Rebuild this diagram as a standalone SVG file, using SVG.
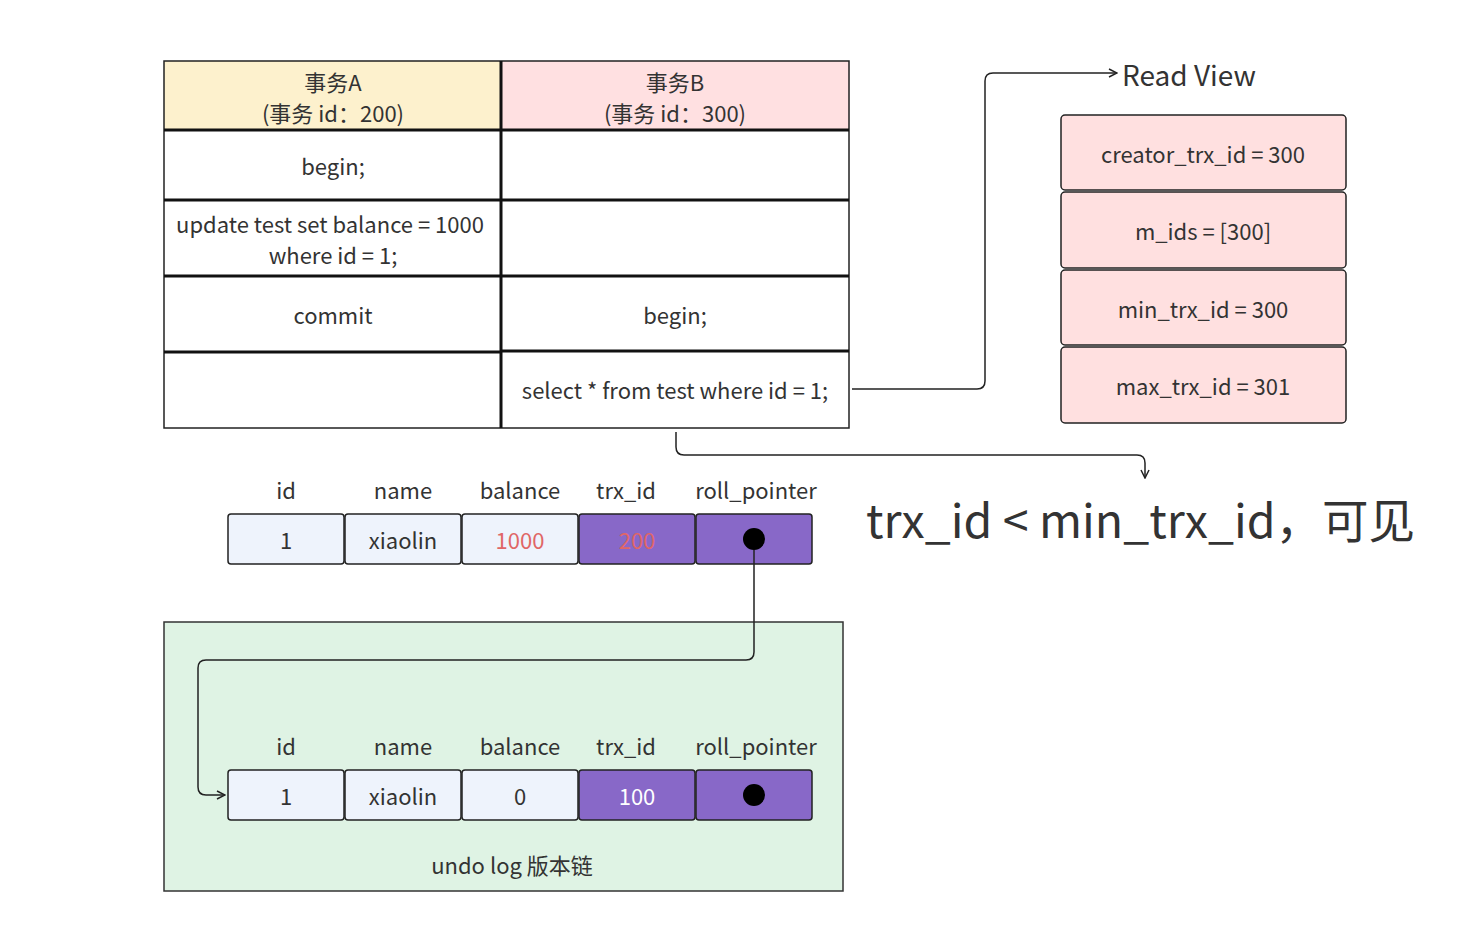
<svg xmlns="http://www.w3.org/2000/svg" width="1460" height="932" viewBox="0 0 1460 932">
<defs>
<style>
text{font-family:"Noto Sans CJK SC","Noto Sans",sans-serif;fill:#333;text-anchor:middle;dominant-baseline:central}
.t{font-size:22px}
.cellL{fill:#eef3fc;stroke:#222;stroke-width:1.5}
.cellP{fill:#8868c8;stroke:#222;stroke-width:1.5}
.rv{fill:#ffe0e0;stroke:#222;stroke-width:1.5}
.conn{fill:none;stroke:#222;stroke-width:1.5}
.grid{stroke:#111;stroke-width:3}
</style>
<marker id="arr" viewBox="0 0 10 10" refX="9" refY="5" markerWidth="10" markerHeight="10" markerUnits="userSpaceOnUse" orient="auto">
<path d="M1,1 L9,5 L1,9" fill="none" stroke="#222" stroke-width="1.5"/>
</marker>
</defs>
<rect width="1460" height="932" fill="#fff"/>

<g id="undo-box">
<rect x="164" y="622" width="679" height="269" fill="#dff3e4" stroke="#333" stroke-width="1.5"/>
<text x="512" y="864" class="t">undo log 版本链</text>
</g>

<g id="table">
<rect x="164" y="61" width="337" height="69" fill="#fdf1cd"/>
<rect x="501" y="61" width="348" height="69" fill="#ffe0e1"/>
<rect x="164" y="61" width="685" height="367" fill="none" stroke="#222" stroke-width="1.5"/>
<line class="grid" x1="501" y1="61" x2="501" y2="428"/>
<line class="grid" x1="164" y1="130" x2="849" y2="130"/>
<line class="grid" x1="164" y1="200" x2="849" y2="200"/>
<line class="grid" x1="164" y1="276" x2="849" y2="276"/>
<line class="grid" x1="501" y1="351" x2="849" y2="351"/>
<line class="grid" x1="164" y1="352" x2="501" y2="352"/>
<text x="333" y="81" class="t">事务A</text>
<text x="333" y="112" class="t">(事务 id：200)</text>
<text x="675" y="81" class="t">事务B</text>
<text x="675" y="112" class="t">(事务 id：300)</text>
<text x="333" y="165" class="t">begin;</text>
<text x="330" y="223" class="t">update test set balance = 1000</text>
<text x="333" y="254" class="t">where id = 1;</text>
<text x="333" y="314" class="t">commit</text>
<text x="675" y="314" class="t">begin;</text>
<text x="675" y="389" class="t">select * from test where id = 1;</text>
</g>

<g id="read-view">
<text x="1122" y="74" style="font-size:28px;text-anchor:start">Read View</text>
<rect class="rv" x="1061" y="115" width="285" height="75" rx="4"/>
<text x="1203" y="153" class="t">creator_trx_id = 300</text>
<rect class="rv" x="1061" y="192" width="285" height="76" rx="4"/>
<text x="1203" y="230" class="t">m_ids = [300]</text>
<rect class="rv" x="1061" y="270" width="285" height="75" rx="4"/>
<text x="1203" y="308" class="t">min_trx_id = 300</text>
<rect class="rv" x="1061" y="347" width="285" height="76" rx="4"/>
<text x="1203" y="385" class="t">max_trx_id = 301</text>
</g>

<g id="condition">
<text x="866" y="517" style="font-size:46.5px;text-anchor:start">trx_id &lt; min_trx_id，可见</text>
</g>

<g id="row-current">
<text x="286" y="489" class="t">id</text>
<text x="403" y="489" class="t">name</text>
<text x="520" y="489" class="t">balance</text>
<text x="626" y="489" class="t">trx_id</text>
<text x="756" y="489" class="t">roll_pointer</text>
<rect class="cellL" x="228" y="514" width="116" height="50" rx="3"/>
<rect class="cellL" x="345" y="514" width="116" height="50" rx="3"/>
<rect class="cellL" x="462" y="514" width="116" height="50" rx="3"/>
<rect class="cellP" x="579" y="514" width="116" height="50" rx="3"/>
<rect class="cellP" x="696" y="514" width="116" height="50" rx="3"/>
<text x="286" y="539" class="t">1</text>
<text x="403" y="539" class="t">xiaolin</text>
<text x="520" y="539" class="t" style="fill:#e06666">1000</text>
<text x="637" y="539" class="t" style="fill:#e06666">200</text>
<circle cx="754" cy="539" r="11" fill="#000"/>
</g>

<g id="row-undo">
<text x="286" y="745" class="t">id</text>
<text x="403" y="745" class="t">name</text>
<text x="520" y="745" class="t">balance</text>
<text x="626" y="745" class="t">trx_id</text>
<text x="756" y="745" class="t">roll_pointer</text>
<rect class="cellL" x="228" y="770" width="116" height="50" rx="3"/>
<rect class="cellL" x="345" y="770" width="116" height="50" rx="3"/>
<rect class="cellL" x="462" y="770" width="116" height="50" rx="3"/>
<rect class="cellP" x="579" y="770" width="116" height="50" rx="3"/>
<rect class="cellP" x="696" y="770" width="116" height="50" rx="3"/>
<text x="286" y="795" class="t">1</text>
<text x="403" y="795" class="t">xiaolin</text>
<text x="520" y="795" class="t">0</text>
<text x="637" y="795" class="t" style="fill:#fff">100</text>
<circle cx="754" cy="795" r="11" fill="#000"/>
</g>

<g id="connectors">
<path class="conn" d="M852,389 H977 Q985,389 985,381 V81 Q985,73 993,73 H1117" marker-end="url(#arr)"/>
<path class="conn" d="M676,432 V447 Q676,455 684,455 H1137 Q1145,455 1145,463 V478" marker-end="url(#arr)"/>
<path class="conn" d="M754,550 V652 Q754,660 746,660 H206 Q198,660 198,668 V787 Q198,795 206,795 H225" marker-end="url(#arr)"/>
</g>
</svg>
